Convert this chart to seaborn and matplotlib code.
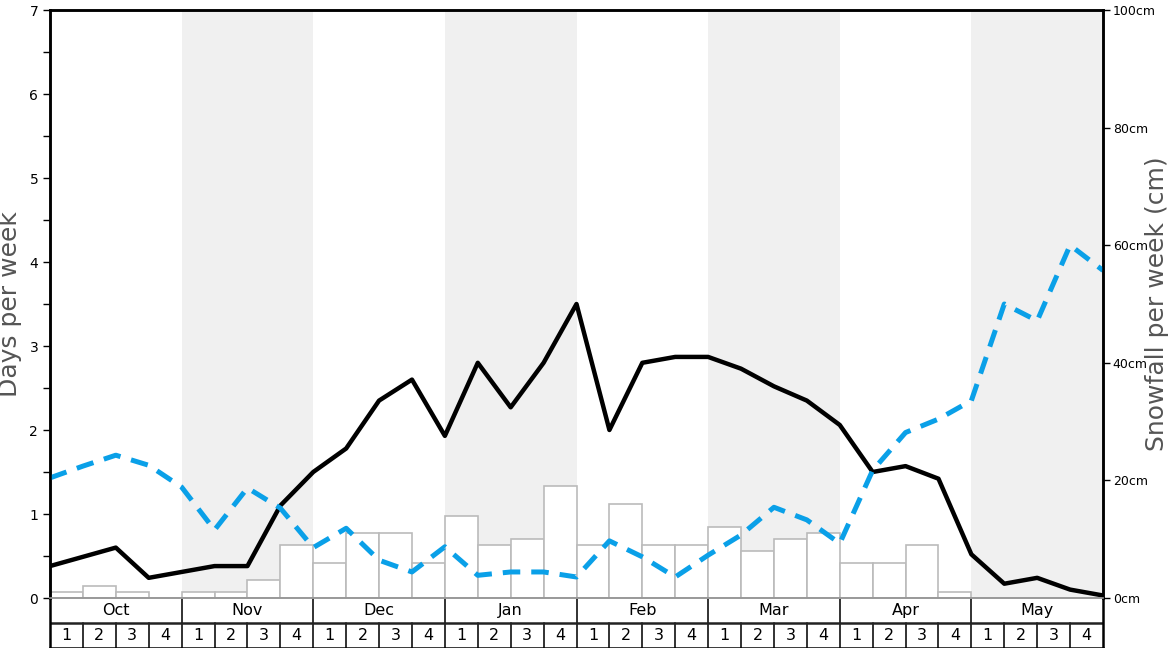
import numpy as np
import pandas as pd
import matplotlib
matplotlib.use("Agg")
import matplotlib.pyplot as plt
from matplotlib.ticker import MultipleLocator
import seaborn as sns

# Data
months = ["Oct", "Nov", "Dec", "Jan", "Feb", "Mar", "Apr", "May"]
week_labels = ["1", "2", "3", "4"]

# snowfall per week (cm), one value per week (32 weeks)
snow_cm = [1, 2, 1, 0, 1, 1, 3, 9,
           6, 11, 11, 6, 14, 9, 10, 19,
           9, 16, 9, 9, 12, 8, 10, 11,
           6, 6, 9, 1, 0, 0, 0, 0]

# days per week lines, values at week boundaries (33 points)
black_days = [0.38, 0.49, 0.60, 0.24, 0.31, 0.38, 0.38, 1.10, 1.50,
              1.78, 2.35, 2.60, 1.93, 2.80, 2.27, 2.80, 3.50,
              2.00, 2.80, 2.87, 2.87, 2.73, 2.52, 2.35, 2.06,
              1.50, 1.57, 1.42, 0.52, 0.17, 0.24, 0.10, 0.03]
blue_days = [1.43, 1.57, 1.70, 1.58, 1.32, 0.81, 1.31, 1.07, 0.60,
             0.83, 0.45, 0.31, 0.61, 0.27, 0.31, 0.31, 0.25,
             0.68, 0.49, 0.25, 0.51, 0.75, 1.08, 0.93, 0.65,
             1.52, 1.97, 2.13, 2.35, 3.50, 3.30, 4.20, 3.90]

n_weeks = len(snow_cm)
week_mid = np.arange(n_weeks) + 0.5
edges = np.arange(n_weeks + 1)

sns.set_style("white")
plt.rcParams['font.family'] = ['DejaVu Sans']
plt.rcParams['text.color'] = 'black'
plt.rcParams['ytick.color'] = 'black'
plt.rcParams['ytick.labelcolor'] = 'black'

W, H = 1168, 648
fig = plt.figure(figsize=(W / 100, H / 100), dpi=100)
L, R, T, B = 50, 1103, 10, 598
ax = fig.add_axes([L / W, (H - B) / H, (R - L) / W, (B - T) / H])
ax2 = ax.twinx()
ax.set_zorder(2)
ax.patch.set_visible(False)
ax2.set_zorder(1)

# shaded months
for i in range(1, len(months), 2):
    ax2.axvspan(4 * i, 4 * i + 4, color="#f0f0f0", lw=0, zorder=0)

# snowfall bars (right axis)
sns.barplot(x=week_mid, y=snow_cm, native_scale=True, width=1.0,
            color="white", edgecolor="#bbbbbb", linewidth=1.2,
            saturation=1, ax=ax2, zorder=2)

# lines (left axis)
sns.lineplot(x=edges, y=black_days, color="black", linewidth=3.2, ax=ax)
sns.lineplot(x=edges, y=blue_days, color="#0aa0e8", linewidth=3.6, ax=ax)
ax.lines[-1].set_dashes((3.5, 2.2))

ax.set_xlim(0, n_weeks)
ax2.set_xlim(0, n_weeks)
ax.set_ylim(0, 7)
ax2.set_ylim(0, 100)
ax.set_xticks([])
ax2.set_xticks([])

ax.yaxis.set_major_locator(MultipleLocator(1))
ax.yaxis.set_minor_locator(MultipleLocator(0.5))
ax.tick_params(axis="y", which="both", length=5, width=1, labelsize=10,
               left=True, colors="black")
ax2.set_yticks(np.arange(0, 101, 20))
ax2.set_yticklabels([f"{v}cm" for v in range(0, 101, 20)])
ax2.tick_params(axis="y", length=5, width=1, labelsize=9, right=True, pad=2,
                colors="black")

ax.set_ylabel("Days per week", fontsize=18, color="#555555")
ax2.set_ylabel("Snowfall per week (cm)", fontsize=18, color="#555555")
ax.yaxis.set_label_coords(-0.0266, 0.5)
ax2.yaxis.set_label_coords(1.040, 0.5)

for a in (ax, ax2):
    for s in ("left", "right", "top"):
        a.spines[s].set_color("black")
        a.spines[s].set_linewidth(1.8)
    a.spines["bottom"].set_color("#999999")
    a.spines["bottom"].set_linewidth(1.2)

# month / week table under the chart
tax = fig.add_axes([L / W, 0, (R - L) / W, (H - B) / H])
tax.set_xlim(0, n_weeks)
tax.set_ylim(0, 2)
tax.set_xticks([])
tax.set_yticks([])
for s in ("left", "right"):
    tax.spines[s].set_linewidth(1.8)
    tax.spines[s].set_color("black")
tax.spines["top"].set_visible(False)
tax.spines["bottom"].set_linewidth(1.8)
tax.spines["bottom"].set_color("black")
tax.axhline(1, color="#222222", lw=1.8)
for i, m in enumerate(months):
    tax.text(4 * i + 2, 1.5, m, ha="center", va="center", fontsize=11.5)
    if i > 0:
        tax.plot([4 * i, 4 * i], [1, 2], color="#222222", lw=1.3)
    for j, wl in enumerate(week_labels):
        k = 4 * i + j
        tax.text(k + 0.5, 0.5, wl, ha="center", va="center", fontsize=11.5)
        if k > 0:
            tax.plot([k, k], [0, 1], color="#222222", lw=1.3)

fig.savefig("out.png", dpi=100)
